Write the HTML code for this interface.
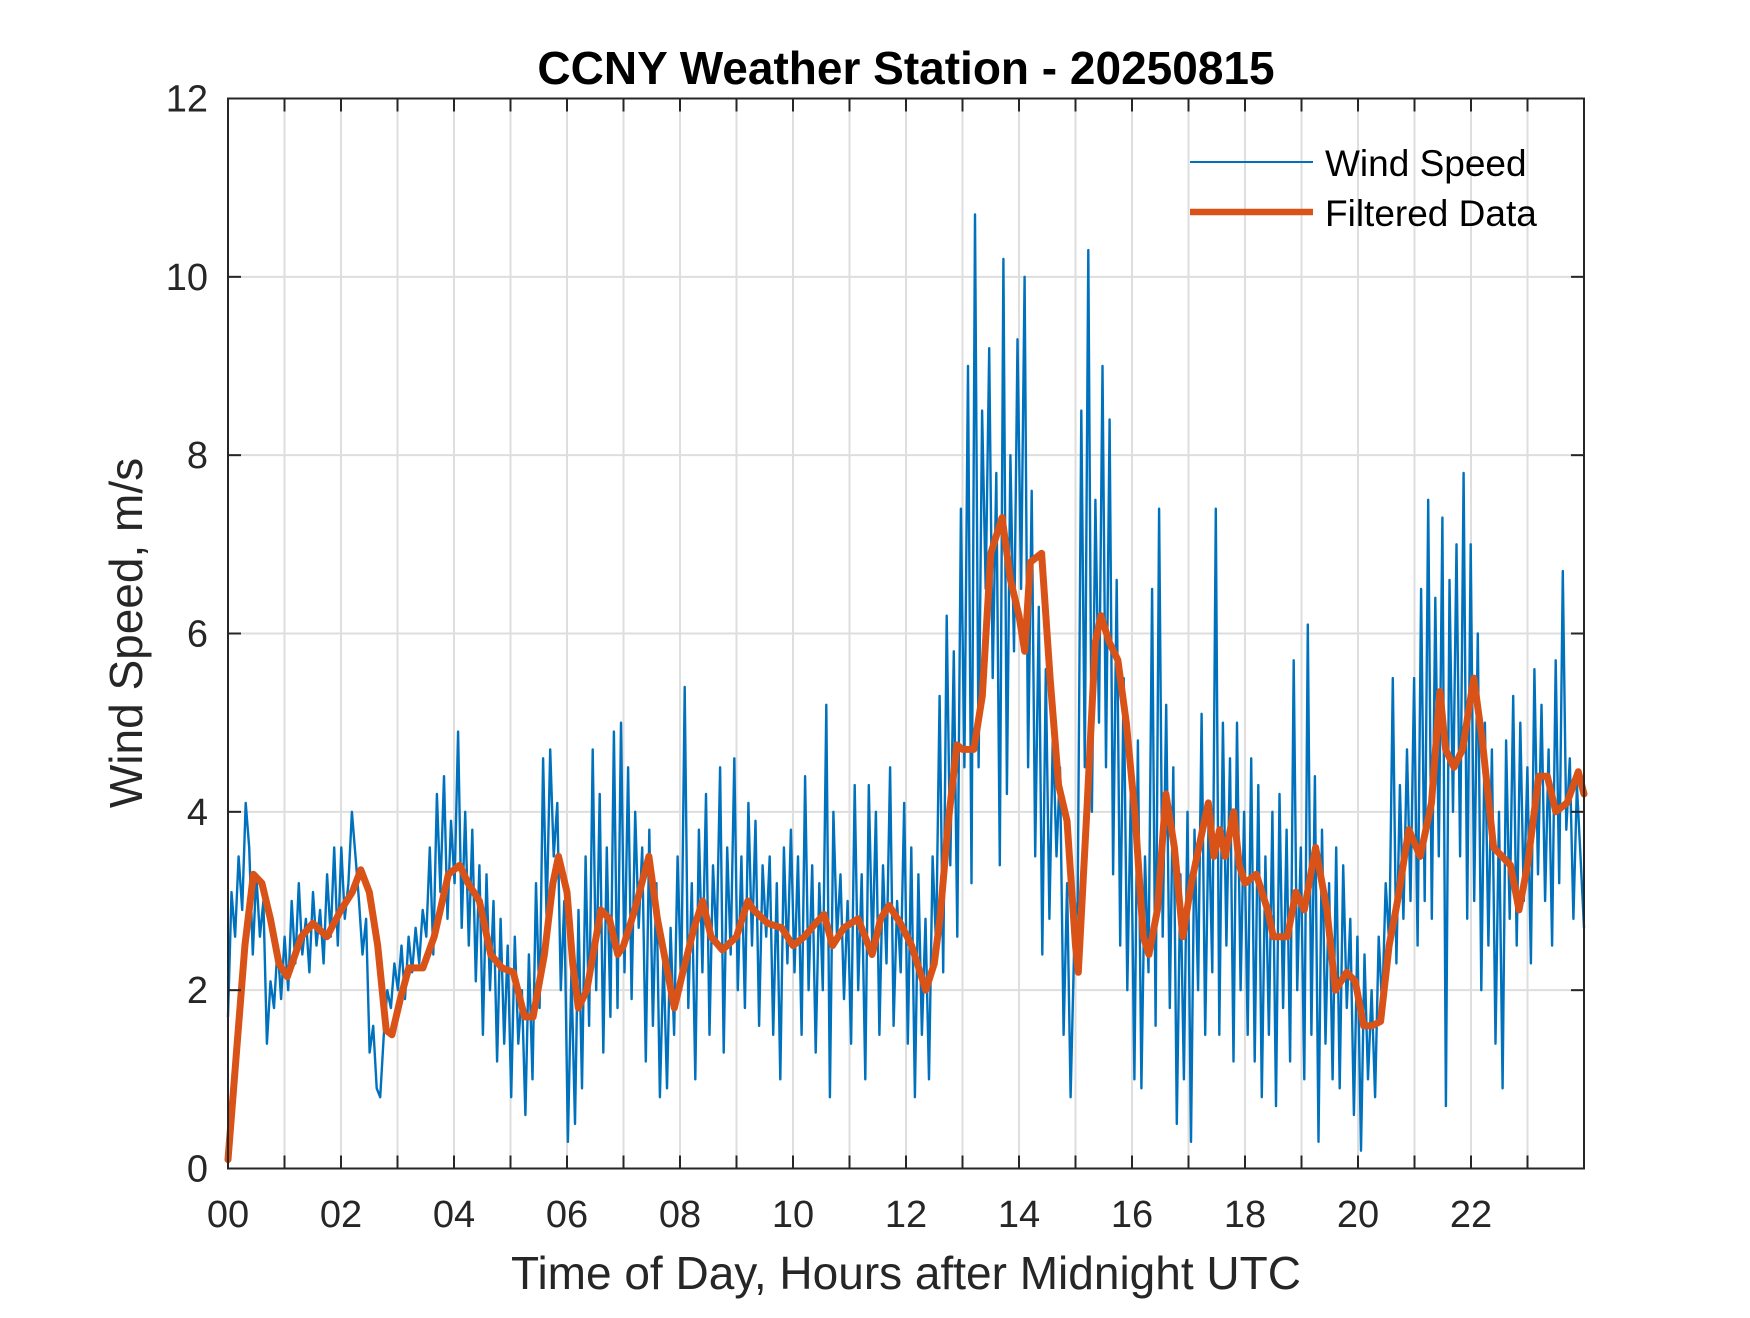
<!DOCTYPE html>
<html><head><meta charset="utf-8"><style>
body{margin:0;background:#fff}
svg text{font-family:"Liberation Sans",Arial,sans-serif;fill:#262626}
</style></head><body>
<svg id="chart" width="1750" height="1313" viewBox="0 0 1750 1313" xmlns="http://www.w3.org/2000/svg">
<rect width="1750" height="1313" fill="#fff"/>
<g id="grid"></g>
<g id="series"></g>
<rect x="228" y="98.5" width="1356" height="1070" fill="none" stroke="#262626" stroke-width="2"/>
<g id="ticks"></g>
<text x="906" y="84" text-anchor="middle" font-size="46" font-weight="bold" style="fill:#000">CCNY Weather Station - 20250815</text>
<text x="906" y="1289" text-anchor="middle" font-size="46">Time of Day, Hours after Midnight UTC</text>
<text transform="translate(142,633) rotate(-90)" text-anchor="middle" font-size="46">Wind Speed, m/s</text>
<g>
<line x1="1190" y1="162" x2="1313" y2="162" stroke="#0072BD" stroke-width="2"/>
<text x="1325" y="176" font-size="37" style="fill:#000">Wind Speed</text>
<line x1="1190" y1="212" x2="1313" y2="212" stroke="#D95319" stroke-width="6.5"/>
<text x="1325" y="226" font-size="37" style="fill:#000">Filtered Data</text>
</g>
</svg>
<script>
const xTickLabels = ["00","02","04","06","08","10","12","14","16","18","20","22"];
const yTickValues = [0,2,4,6,8,10,12];
const windSpeed = [
1.7,3.1,2.6,3.5,2.9,4.1,3.6,2.4,3.3,2.6,3.0,1.4,2.1,1.8,2.5,1.9,
2.6,2.0,3.0,2.3,3.2,2.4,2.8,2.2,3.1,2.5,2.9,2.3,3.3,2.6,3.6,2.5,
3.6,2.8,3.2,4.0,3.5,3.0,2.4,2.8,1.3,1.6,0.9,0.8,1.5,2.0,1.8,2.3,
2.0,2.5,1.9,2.6,2.2,2.7,2.3,2.9,2.6,3.6,2.4,4.2,3.1,4.4,2.8,3.9,
3.2,4.9,2.7,4.0,2.5,3.8,2.1,3.4,1.5,3.3,2.0,3.0,1.2,2.8,1.4,2.5,
0.8,2.6,1.4,2.0,0.6,2.4,1.0,3.2,1.8,4.6,2.8,4.7,3.5,4.1,2.0,3.0,
0.3,2.2,0.5,2.9,0.9,3.5,1.6,4.7,2.0,4.2,1.3,3.6,1.7,4.9,1.8,5.0,
2.2,4.5,1.9,4.0,2.7,3.6,1.2,3.8,1.6,3.2,0.8,2.4,0.9,2.7,1.5,3.5,
2.0,5.4,1.8,3.2,1.0,3.8,2.2,4.2,1.5,3.4,2.5,4.5,1.3,3.6,2.4,4.6,
2.0,3.5,1.8,4.1,2.5,3.9,1.6,3.4,2.6,3.5,1.5,3.2,1.0,3.6,2.3,3.8,
2.2,3.5,1.5,4.4,2.0,3.4,1.3,3.2,2.0,5.2,0.8,4.0,2.6,3.3,1.9,3.0,
1.4,4.3,2.0,3.3,1.0,4.3,2.4,4.0,1.5,3.4,2.3,4.5,1.6,3.0,2.2,4.1,
1.4,3.6,0.8,3.3,1.5,2.8,1.0,3.5,2.5,5.3,2.2,6.2,3.4,5.8,2.6,7.4,
4.5,9.0,3.2,10.7,4.5,8.5,6.5,9.2,5.5,7.8,3.4,10.2,4.2,8.0,5.8,9.3,
6.5,10.0,4.5,7.6,3.5,6.3,2.4,5.6,2.8,4.9,3.5,4.5,1.5,3.2,0.8,2.5,
3.0,8.5,4.5,10.3,4.0,7.5,5.0,9.0,4.5,8.4,3.3,6.6,2.5,5.5,2.0,4.2,
1.0,4.8,0.9,3.5,2.2,6.5,1.6,7.4,2.6,5.2,1.8,4.5,0.5,3.3,1.0,4.0,
0.3,3.8,2.0,5.1,1.5,4.0,2.2,7.4,1.5,5.0,2.5,4.6,1.2,5.0,2.0,4.0,
1.5,4.6,1.2,4.3,0.8,3.5,1.5,4.0,0.7,4.2,1.8,3.8,1.2,5.7,2.0,3.6,
1.0,6.1,1.5,4.4,0.3,3.8,1.4,3.2,1.0,3.6,0.9,3.4,1.8,2.8,0.6,2.6,
0.2,2.4,1.0,2.0,0.8,2.6,1.8,3.2,2.5,5.5,2.3,4.3,2.8,4.7,3.0,5.5,
2.5,6.5,3.0,7.5,2.8,6.4,3.5,7.3,0.7,6.6,4.0,7.0,3.5,7.8,2.8,7.0,
3.0,6.0,2.0,5.0,2.5,4.7,1.4,4.0,0.9,4.8,2.8,5.3,2.5,5.0,3.0,4.5,
2.3,5.6,3.3,5.2,3.0,4.7,2.5,5.7,3.2,6.7,3.8,4.6,2.8,4.3,3.5,2.7];
const filtHours = [0,0.3,0.45,0.6,0.75,0.9,1.05,1.3,1.5,1.75,2.0,2.2,2.35,2.5,2.65,2.8,2.9,3.05,3.2,3.45,3.65,3.9,4.1,4.25,4.45,4.65,4.85,5.05,5.25,5.4,5.6,5.75,5.85,6.0,6.1,6.2,6.35,6.6,6.75,6.9,7.0,7.2,7.45,7.6,7.75,7.9,8.05,8.25,8.4,8.55,8.75,9.0,9.2,9.3,9.55,9.8,10.0,10.2,10.4,10.55,10.7,10.9,11.15,11.4,11.55,11.7,11.9,12.1,12.25,12.35,12.5,12.6,12.75,12.9,13.0,13.2,13.35,13.5,13.7,13.85,14.0,14.1,14.2,14.4,14.55,14.7,14.85,15.0,15.05,15.2,15.35,15.45,15.6,15.75,15.9,16.05,16.2,16.3,16.45,16.6,16.75,16.9,17.05,17.25,17.35,17.45,17.55,17.65,17.8,17.9,18.0,18.2,18.4,18.5,18.75,18.9,19.05,19.25,19.45,19.6,19.8,19.95,20.1,20.25,20.4,20.55,20.7,20.9,21.1,21.3,21.45,21.55,21.7,21.85,22.05,22.2,22.4,22.55,22.7,22.85,23.0,23.2,23.35,23.5,23.7,23.9,24.0];
const filtValues = [0.1,2.5,3.3,3.2,2.8,2.3,2.15,2.6,2.75,2.6,2.9,3.1,3.35,3.1,2.5,1.55,1.5,1.9,2.25,2.25,2.6,3.3,3.4,3.2,3.0,2.4,2.25,2.2,1.7,1.7,2.4,3.2,3.5,3.1,2.3,1.8,2.0,2.9,2.8,2.4,2.5,2.9,3.5,2.8,2.3,1.8,2.2,2.7,3.0,2.6,2.45,2.6,3.0,2.9,2.75,2.7,2.5,2.6,2.75,2.85,2.5,2.7,2.8,2.4,2.8,2.95,2.75,2.5,2.2,2.0,2.3,2.8,3.9,4.75,4.7,4.7,5.3,6.9,7.3,6.6,6.2,5.8,6.8,6.9,5.5,4.3,3.9,2.5,2.2,4.0,5.9,6.2,5.9,5.7,5.0,4.0,2.6,2.4,2.9,4.2,3.6,2.6,3.2,3.8,4.1,3.5,3.8,3.5,4.0,3.4,3.2,3.3,2.9,2.6,2.6,3.1,2.9,3.6,2.9,2.0,2.2,2.1,1.6,1.6,1.65,2.5,3.0,3.8,3.5,4.1,5.35,4.7,4.5,4.7,5.5,4.8,3.6,3.5,3.4,2.9,3.4,4.4,4.4,4.0,4.1,4.45,4.2];

const L=228,R=1584,T=98.5,B=1168.5;
const xs=h=>L+(R-L)*h/24;
const ys=v=>B-(B-T)*v/12;
const NS="http://www.w3.org/2000/svg";
const grid=document.getElementById('grid'),ticks=document.getElementById('ticks'),series=document.getElementById('series');
function mk(tag,attrs,parent){const e=document.createElementNS(NS,tag);for(const k in attrs)e.setAttribute(k,attrs[k]);parent.appendChild(e);return e;}
for(let h=1;h<24;h++){
  const g=mk('line',{x1:xs(h),x2:xs(h),y1:T,y2:B,stroke:'#dedede','stroke-width':2},grid);
  
  
  const t1=mk('line',{x1:xs(h),x2:xs(h),y1:B,y2:B-13,stroke:'#262626','stroke-width':2},ticks);
  
  
  const t2=mk('line',{x1:xs(h),x2:xs(h),y1:T,y2:T+13,stroke:'#262626','stroke-width':2},ticks);
  
  
}
xTickLabels.forEach((lab,i)=>{
  const t=mk('text',{x:xs(i*2),y:1227,'text-anchor':'middle','font-size':38},ticks);
  t.textContent=lab;
  
  
});
yTickValues.forEach(v=>{
  if(v>0&&v<12){
    const g=mk('line',{x1:L,x2:R,y1:ys(v),y2:ys(v),stroke:'#dedede','stroke-width':2},grid);
    
    
    const a=mk('line',{x1:L,x2:L+13,y1:ys(v),y2:ys(v),stroke:'#262626','stroke-width':2},ticks);
    
    
    const b=mk('line',{x1:R,x2:R-13,y1:ys(v),y2:ys(v),stroke:'#262626','stroke-width':2},ticks);
    
    
  }
  const t=mk('text',{x:208,y:ys(v)+13,'text-anchor':'end','font-size':38},ticks);
  t.textContent=String(v);
  
  
});
const n=windSpeed.length;
const wp=windSpeed.map((v,i)=>xs(i*24/(n-1)).toFixed(1)+','+ys(v).toFixed(1)).join(' ');
const wl=mk('polyline',{points:wp,fill:'none',stroke:'#0072BD','stroke-width':2.4,'stroke-linejoin':'round'},series);


const fp=filtHours.map((h,i)=>xs(h).toFixed(1)+','+ys(filtValues[i]).toFixed(1)).join(' ');
const fl=mk('polyline',{points:fp,fill:'none',stroke:'#D95319','stroke-width':7,'stroke-linejoin':'round','stroke-linecap':'round'},series);


</script>
</body></html>
